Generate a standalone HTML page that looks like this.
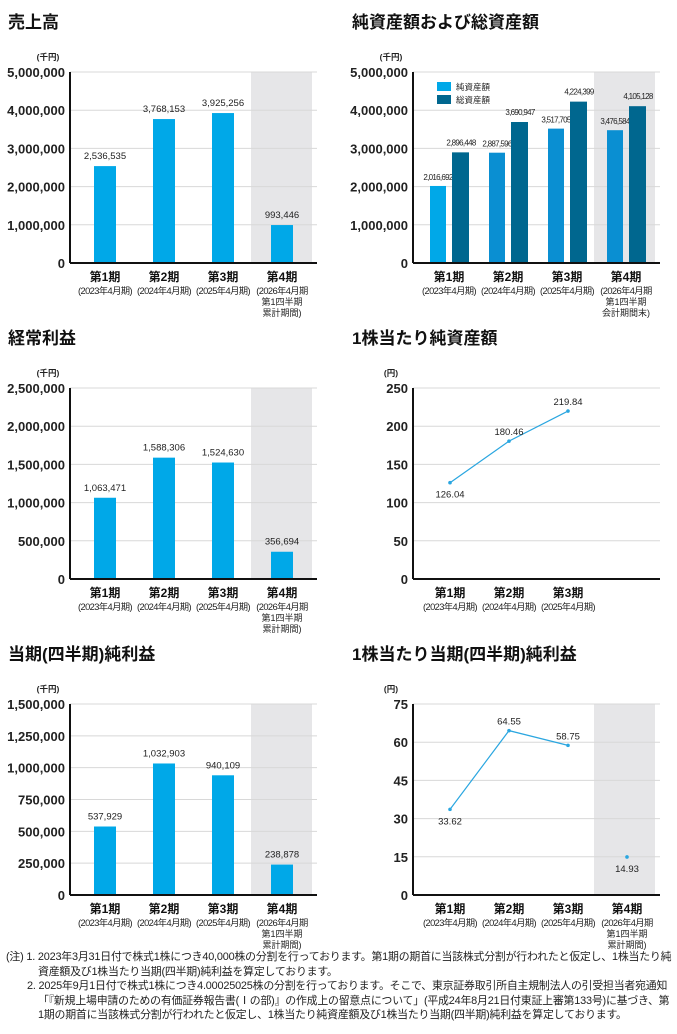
<!DOCTYPE html>
<html><head><meta charset="utf-8">
<style>
body{margin:0;background:#fff;width:677px;height:1034px;overflow:hidden;font-family:"Liberation Sans","Noto Sans CJK JP",sans-serif}
svg text{font-family:"Liberation Sans","Noto Sans CJK JP",sans-serif}
.note{position:absolute;left:6px;top:950px;font-size:10.9px;line-height:14.5px;color:#222;width:668px;letter-spacing:-0.2px}
</style></head><body>
<svg id="s" width="677" height="950" style="position:absolute;left:0;top:0"></svg>
<div class="note">
<div style="padding-left:32px;text-indent:-32px">(注) 1. 2023年3月31日付で株式1株につき40,000株の分割を行っております。第1期の期首に当該株式分割が行われたと仮定し、1株当たり純資産額及び1株当たり当期(四半期)純利益を算定しております。</div>
<div style="padding-left:32px;text-indent:-11px">2. 2025年9月1日付で株式1株につき4.00025025株の分割を行っております。そこで、東京証券取引所自主規制法人の引受担当者宛通知「『新規上場申請のための有価証券報告書(Ⅰの部)』の作成上の留意点について」(平成24年8月21日付東証上審第133号)に基づき、第1期の期首に当該株式分割が行われたと仮定し、1株当たり純資産額及び1株当たり当期(四半期)純利益を算定しております。</div>
</div>
<script>
const sales=[2536535,3768153,3925256,993446];
const netAssets=[2016692,2887596,3517705,3476584];
const totalAssets=[2896448,3690947,4224399,4105128];
const ordinary=[1063471,1588306,1524630,356694];
const bps=[126.04,180.46,219.84];
const netIncome=[537929,1032903,940109,238878];
const eps=[33.62,64.55,58.75,14.93];
const ticksM=[0,1000000,2000000,3000000,4000000,5000000];
const ticksOrd=[0,500000,1000000,1500000,2000000,2500000];
const ticksNI=[0,250000,500000,750000,1000000,1250000,1500000];
const ticksBps=[0,50,100,150,200,250];
const ticksEps=[0,15,30,45,60,75];
const cats=["第1期","第2期","第3期","第4期"];
const subs=["(2023年4月期)","(2024年4月期)","(2025年4月期)","(2026年4月期"];
const fmt=v=>v.toLocaleString('en-US');
const S=document.getElementById('s');const NS='http://www.w3.org/2000/svg';
function el(t,a,txt,p){const e=document.createElementNS(NS,t);for(const k in a)e.setAttribute(k,a[k]);if(txt!=null)e.textContent=txt;(p||S).appendChild(e);return e;}
function chart(o){
 const g=el('g',{});
 
 
 const L=o.x0,R=o.x0+247,top=o.y0-191,bot=o.y0,max=o.ticks[o.ticks.length-1];
 const y=v=>bot-(v/max)*(bot-top);
 const cx=i=>L+(o.c0||35)+i*59;
 const t=el('text',{x:o.tx,y:top-44,'font-size':17,'font-weight':'bold',fill:'#111'},o.title,g);
 
 el('text',{x:L-22,y:top-12,'font-size':8.5,'font-weight':'bold',fill:'#222','text-anchor':'middle'},o.unit,g);
 if(o.shade){const r=el('rect',{x:L+181,y:top,width:61,height:bot-top,fill:'#e6e6e8'},null,g);}
 o.ticks.forEach(v=>{el('line',{x1:L,x2:R,y1:y(v),y2:y(v),stroke:'#d8d8d8','stroke-width':1},null,g);
  el('text',{x:L-5,y:y(v)+5,'font-size':13,'font-weight':'bold','text-anchor':'end',fill:'#222'},o.tf?o.tf(v):fmt(v),g);});
 if(o.bars){o.bars.forEach((b,i)=>{const h=bot-y(b);const r=el('rect',{x:cx(i)-11,y:y(b),width:22,height:h,fill:'#00a8e8'},null,g);
  el('text',{x:cx(i),y:y(b)-7,'font-size':9.5,'text-anchor':'middle',fill:'#222'},fmt(b),g);});}
 if(o.pair){o.pair[0].forEach((b,i)=>{const c=cx(i);
  const r1=el('rect',{x:c-19,y:y(b),width:16,height:bot-y(b),fill:i==0?'#00a8e8':'#0a8fd2'},null,g);
  el('text',{x:c-11,y:y(b)-6,'font-size':8,'text-anchor':'middle',fill:'#222','letter-spacing':'-0.7'},fmt(b),g);
  const b2=o.pair[1][i];const r2=el('rect',{x:c+3,y:y(b2),width:17,height:bot-y(b2),fill:'#00678f'},null,g);
  el('text',{x:c+12,y:y(b2)-7,'font-size':8,'text-anchor':'middle',fill:'#222','letter-spacing':'-0.7'},fmt(b2),g);});
  el('rect',{x:L+24,y:top+10,width:14,height:9,fill:'#00a8e8'},null,g);el('text',{x:L+43,y:top+18,'font-size':8.5,fill:'#222'},'純資産額',g);
  el('rect',{x:L+24,y:top+23,width:14,height:9,fill:'#00678f'},null,g);el('text',{x:L+43,y:top+31,'font-size':8.5,fill:'#222'},'総資産額',g);}
 if(o.line){const n=o.lineN;let d='';for(let i=0;i<n;i++)d+=(i?'L':'M')+cx(i)+','+y(o.line[i]);
  const p=el('path',{d:d,fill:'none',stroke:'#2aa6e0','stroke-width':1.2},null,g);
  o.line.forEach((v,i)=>{el('circle',{cx:cx(i),cy:y(v),r:1.8,fill:'#2aa6e0'},null,g);
   const below=o.below.includes(i);el('text',{x:cx(i),y:below?y(v)+15:y(v)-6,'font-size':9.5,'text-anchor':'middle',fill:'#222'},v.toFixed(2),g);});}
 el('line',{x1:L,x2:L,y1:top,y2:bot,stroke:'#111','stroke-width':2},null,g);
 el('line',{x1:L,x2:R,y1:bot,y2:bot,stroke:'#111','stroke-width':2},null,g);
 const nc=o.ncat||4;
 for(let i=0;i<nc;i++){el('text',{x:cx(i),y:bot+18,'font-size':12,'font-weight':'bold','text-anchor':'middle',fill:'#111'},cats[i],g);
  el('text',{x:cx(i),y:bot+31,'font-size':9.3,'text-anchor':'middle',fill:'#222','letter-spacing':'-0.6'},subs[i],g);
  if(i==3){el('text',{x:cx(i),y:bot+42,'font-size':9,'text-anchor':'middle',fill:'#222'},'第1四半期',g);
   el('text',{x:cx(i),y:bot+53,'font-size':9,'text-anchor':'middle',fill:'#222'},o.last,g);}}
}
chart({name:'sales-chart',title:'売上高',tx:8,x0:70,y0:263,ticks:ticksM,unit:'(千円)',shade:1,bars:sales,last:'累計期間)'});
chart({name:'assets-chart',title:'純資産額および総資産額',tx:352,x0:413,y0:263,ticks:ticksM,unit:'(千円)',shade:1,pair:[netAssets,totalAssets],c0:36,last:'会計期間末)'});
chart({name:'ordinary-profit-chart',title:'経常利益',tx:8,x0:70,y0:579,ticks:ticksOrd,unit:'(千円)',shade:1,bars:ordinary,last:'累計期間)'});
chart({name:'bps-chart',title:'1株当たり純資産額',tx:352,x0:413,y0:579,ticks:ticksBps,unit:'(円)',line:bps,lineN:3,below:[0],ncat:3,c0:37,tf:v=>v});
chart({name:'net-income-chart',title:'当期(四半期)純利益',tx:8,x0:70,y0:895,ticks:ticksNI,unit:'(千円)',shade:1,bars:netIncome,last:'累計期間)'});
chart({name:'eps-chart',title:'1株当たり当期(四半期)純利益',tx:352,x0:413,y0:895,ticks:ticksEps,unit:'(円)',shade:1,line:eps,lineN:3,below:[0,3],c0:37,tf:v=>v,last:'累計期間)'});
</script>
</body></html>
